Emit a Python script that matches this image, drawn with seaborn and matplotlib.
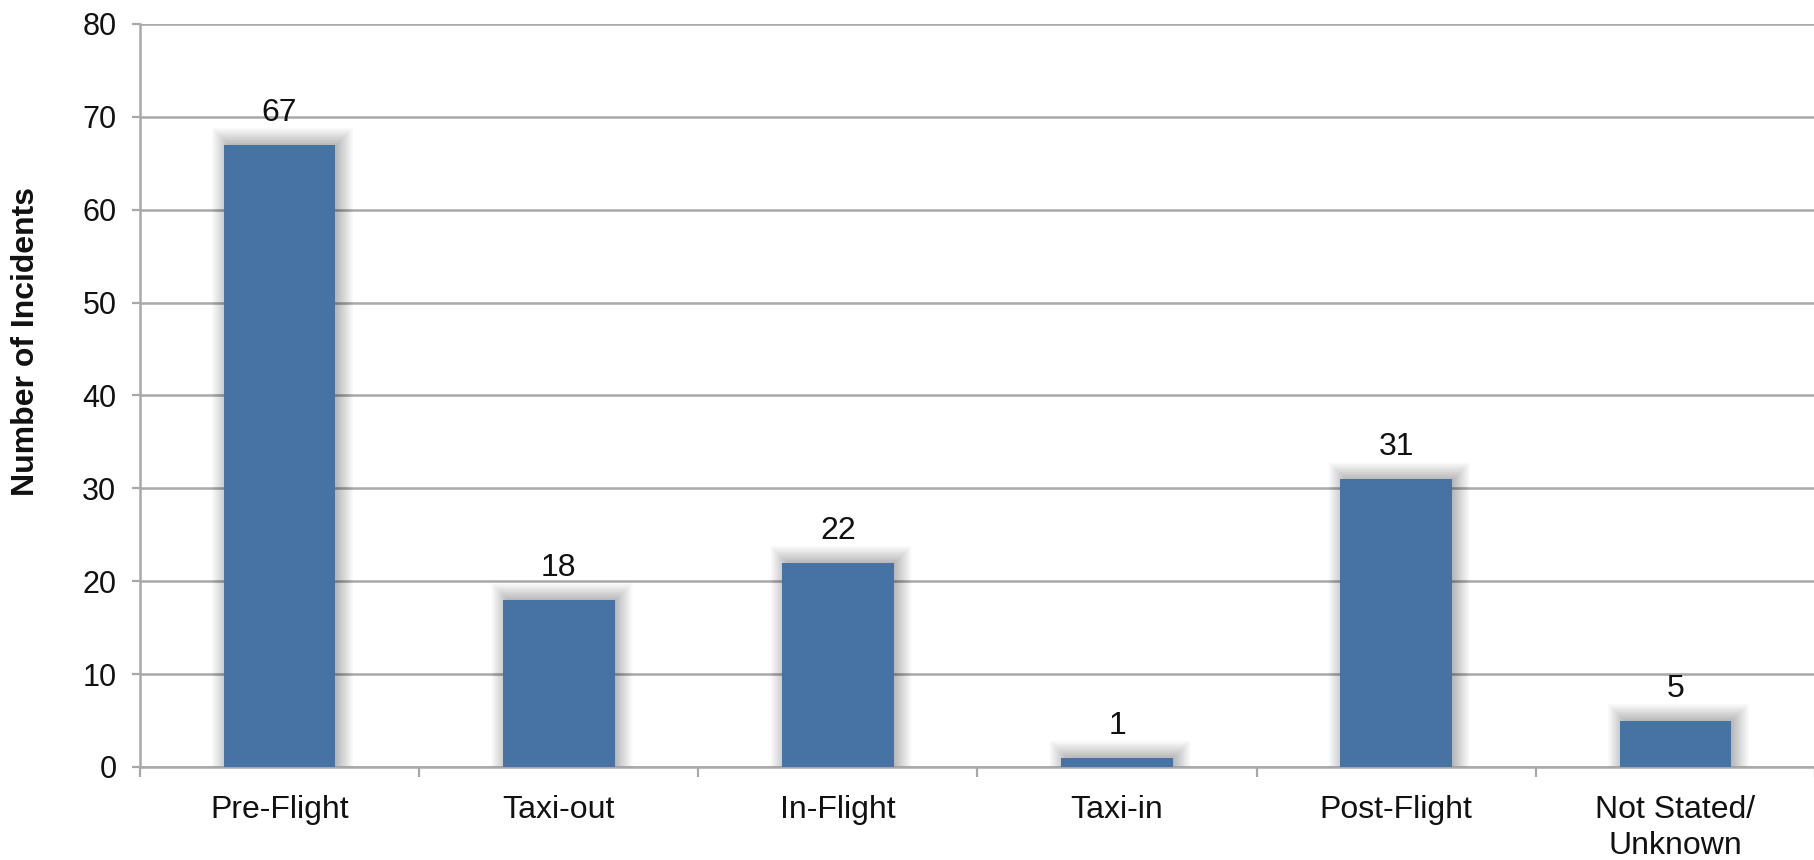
import matplotlib
matplotlib.use("Agg")
import matplotlib.pyplot as plt
from matplotlib.patches import Rectangle
import seaborn as sns
import pandas as pd
import numpy as np

# Incidents by phase of flight
phases = ["Pre-Flight", "Taxi-out", "In-Flight", "Taxi-in", "Post-Flight", "Not Stated/\nUnknown"]
incidents = [67, 18, 22, 1, 31, 5]
y_ticks = [0, 10, 20, 30, 40, 50, 60, 70, 80]

df = pd.DataFrame({"phase": phases, "incidents": incidents})

sns.set_theme(style="white")
plt.rcParams["font.family"] = ["Liberation Sans", "DejaVu Sans"]

BAR = "#4673A3"
GRID = "#A8A8A8"
TEXT = "#111111"

fig = plt.figure(figsize=(18.15, 8.6), dpi=100)
ax = fig.add_axes([140 / 1815, 1 - 767 / 860, 1 - 140 / 1815, (767 - 24) / 860])

sns.barplot(data=df, x="phase", y="incidents", color=BAR, width=0.40,
            saturation=1, edgecolor="none", linewidth=0, ax=ax, zorder=3)

ax.set_ylim(0, 80)
ax.set_xlim(-0.5, (1815 - 140) / 281.7 - 0.5)
ax.set_yticks(y_ticks)
ax.set_yticklabels([str(v) for v in y_ticks], fontsize=22, color=TEXT)
ax.set_xlabel("")
ax.set_ylabel("")

# horizontal gridlines
ax.yaxis.grid(True, color=GRID, linewidth=1.8, zorder=0)
ax.xaxis.grid(False)
ax.set_axisbelow(True)

for s in ["top", "right"]:
    ax.spines[s].set_visible(False)
for s in ["left", "bottom"]:
    ax.spines[s].set_color(GRID)
    ax.spines[s].set_linewidth(1.8)

ax.tick_params(axis="y", which="major", length=6, width=1.6, color=GRID,
               direction="out", pad=11, left=True)
ax.tick_params(axis="x", which="major", length=0, pad=20, labelsize=23,
               labelcolor=TEXT)
ax.set_xticks(np.arange(-0.5, len(phases), 1.0), minor=True)
ax.tick_params(axis="x", which="minor", length=7, width=1.6, color=GRID,
               direction="out", bottom=True)
for lbl in ax.get_xticklabels():
    lbl.set_linespacing(1.25)

# soft drop shadow behind each bar, built from stacked translucent layers
fig.canvas.draw()
px_x = 1.0 / (ax.transData.transform((1, 0))[0] - ax.transData.transform((0, 0))[0])
px_y = 1.0 / (ax.transData.transform((0, 1))[1] - ax.transData.transform((0, 0))[1])
for p in list(ax.patches):
    x0, w, h = p.get_x(), p.get_width(), p.get_height()
    for r in np.linspace(-2, 15, 24):
        ax.add_patch(Rectangle((x0 - r * px_x + 3 * px_x, 0),
                               w + 2 * r * px_x,
                               h + r * px_y + 2 * px_y,
                               facecolor="black", edgecolor="none",
                               alpha=0.011, zorder=2, clip_on=True))

# value labels on top of the bars
ax.bar_label(ax.containers[0], labels=[str(v) for v in incidents],
             padding=12, fontsize=23, color=TEXT)

fig.text(26 / 1815, 1 - 342 / 860, "Number of Incidents", rotation=90,
         ha="center", va="center", fontsize=23, fontweight="bold",
         color=TEXT)

fig.savefig("out.png", dpi=100, facecolor="white")
